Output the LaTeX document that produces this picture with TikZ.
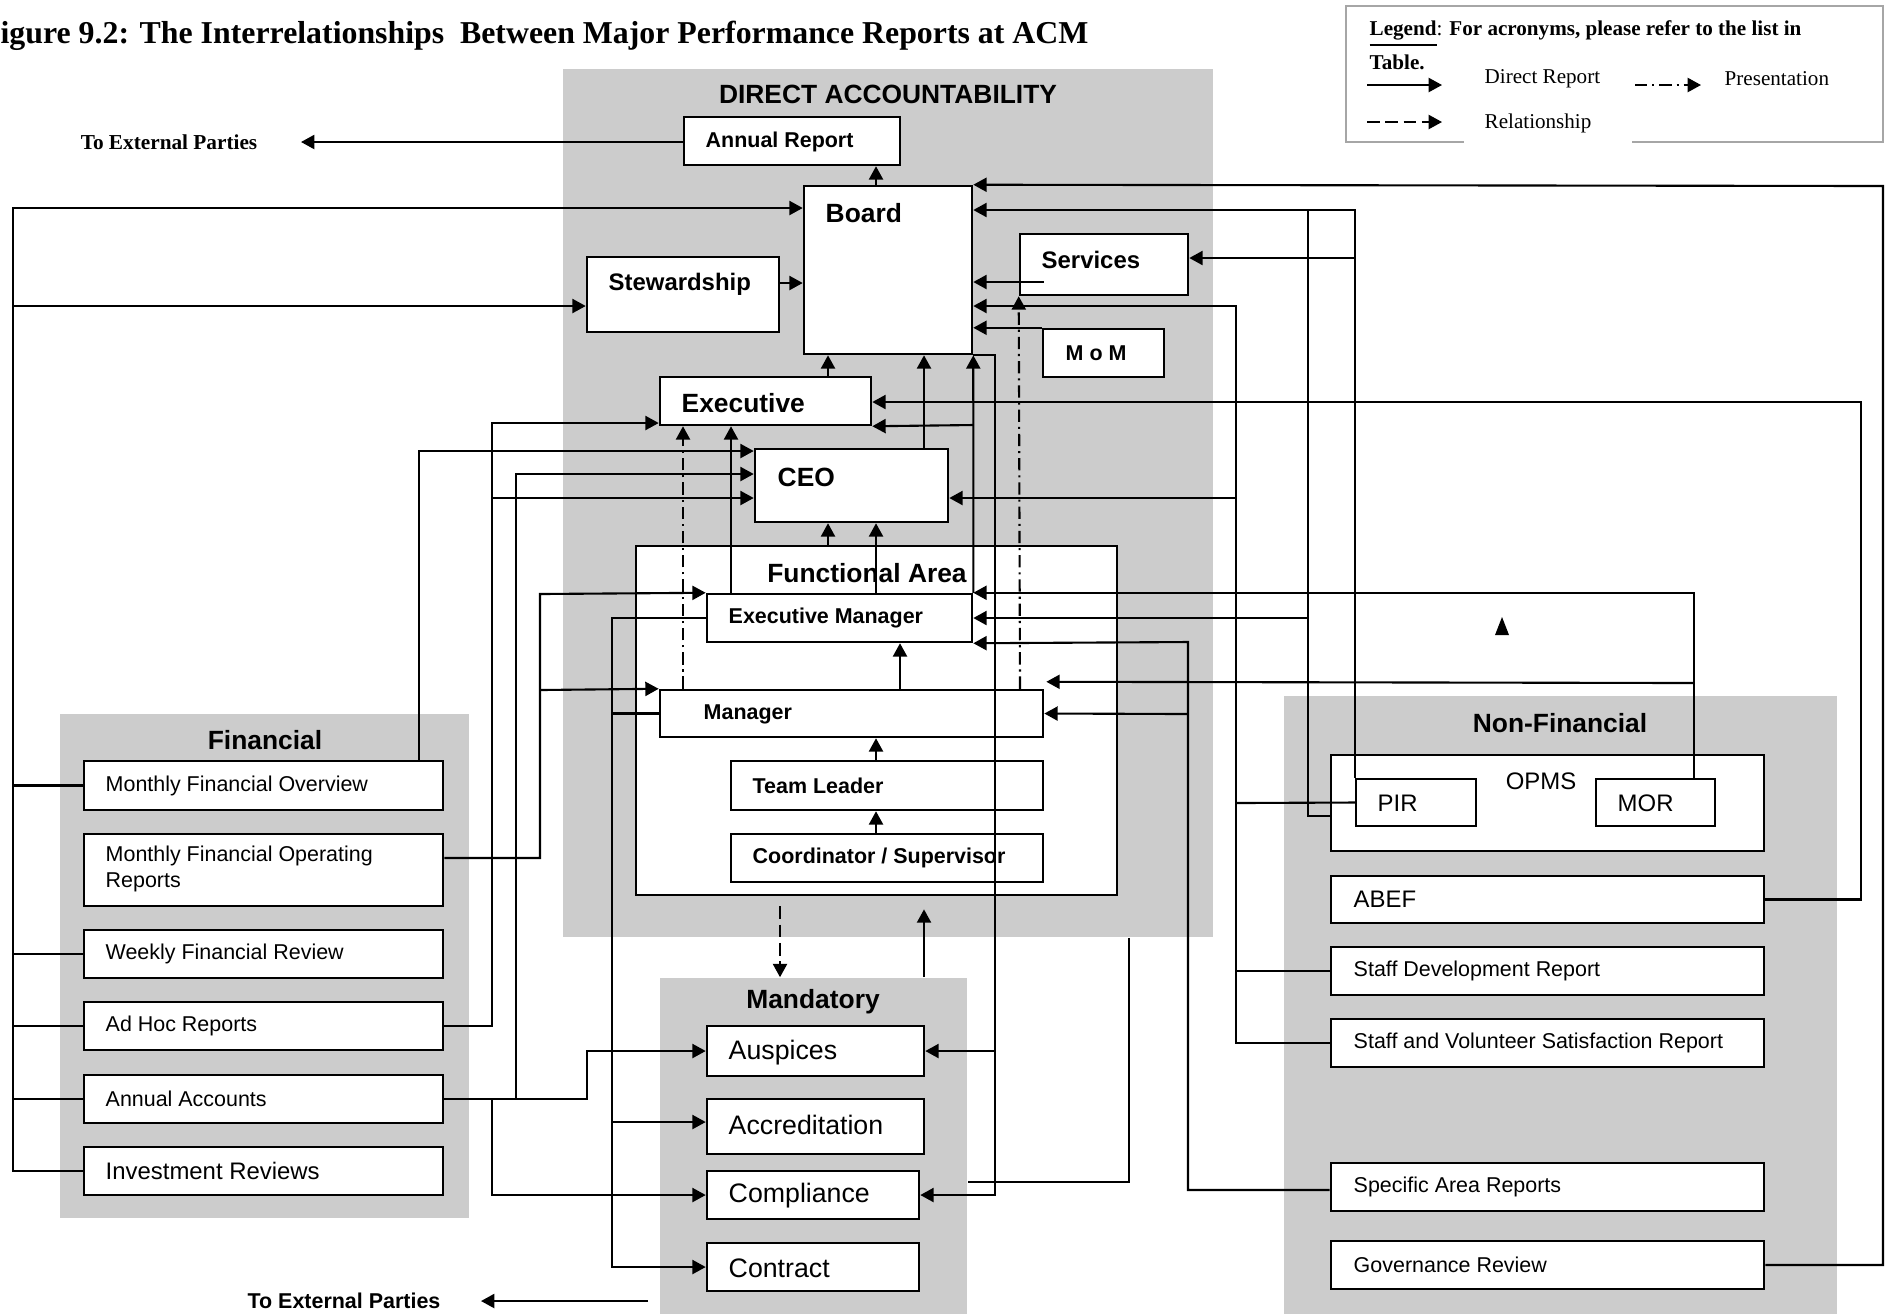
\documentclass[tikz,border=0pt]{standalone}
\usepackage{fontspec}
\setmainfont{Liberation Sans}
\newfontfamily\timesfont{Liberation Serif}
\usetikzlibrary{arrows.meta,calc}

\tikzset{
  region/.style={shape=rectangle, fill=black!20, inner sep=0pt},
  box/.style={shape=rectangle, draw, line width=0.7pt, fill=white, inner sep=0pt},
  head/.style={anchor=center, inner sep=0pt, font=\bfseries\fontsize{7.5}{9}\selectfont},
  lblbig/.style={anchor=west, inner sep=0pt, font=\bfseries\fontsize{7.5}{9}\selectfont},
  lblmid/.style={anchor=west, inner sep=0pt, font=\bfseries\fontsize{6.8}{8.2}\selectfont},
  lblsmall/.style={anchor=west, inner sep=0pt, font=\bfseries\fontsize{6.1}{7.3}\selectfont},
  item/.style={anchor=west, inner sep=0pt, align=left, font=\fontsize{6.1}{7.25}\selectfont},
  itemmid/.style={anchor=west, inner sep=0pt, font=\fontsize{6.8}{8.2}\selectfont},
  itembig/.style={anchor=west, inner sep=0pt, font=\fontsize{7.6}{9.1}\selectfont},
  legtxt/.style={anchor=west, inner sep=0pt, font=\timesfont\fontsize{6.0}{7.2}\selectfont},
  wire/.style={line width=0.6pt},
  conn/.style={wire, -{Triangle[length=3.8pt, width=4pt]}},
  pres/.style={conn, dash pattern=on 3.5pt off 1.4pt on 0.6pt off 1.4pt},
  rel/.style={conn, dash pattern=on 3.6pt off 1.6pt}
}

\begin{document}
\begin{tikzpicture}[x=0.01cm, y=-0.01cm]
	\useasboundingbox (0,0) rectangle (1889,1314);
	% Shaded areas:
	\node[region, minimum width=6.50cm, minimum height=8.68cm] (da) at (888,503) {};
	\node[region, minimum width=4.09cm, minimum height=5.04cm] (fin) at (264.5,966) {};
	\node[region, minimum width=3.07cm, minimum height=3.36cm] (mand) at (813.5,1146) {};
	\node[region, minimum width=5.53cm, minimum height=6.18cm] (nonfin) at (1560.5,1005) {};
	\node[anchor=base west, inner sep=0pt, font=\timesfont\bfseries\fontsize{9.05}{11}\selectfont] (title) at (-19.5,43) {Figure 9.2: The Interrelationships\ \ Between Major Performance Reports at ACM};

	% Legend:
	\node[shape=rectangle, draw=gray!70, line width=0.6pt, minimum width=5.37cm, minimum height=1.36cm] (legend) at (1614.5,74) {};
	\fill[white] (1464,106) rectangle (1632,146);
	\node[legtxt] (leg-a) at (1369,34) {\underline{\textbf{Legend}}: \textbf{For acronyms, please refer to the list in}};
	\node[legtxt] (leg-b) at (1369,62) {\textbf{Table.}};
	\coordinate (ls-a) at (1367,85); \coordinate (ls-b) at (1442,85);
	\coordinate (lp-a) at (1635,85); \coordinate (lp-b) at (1701,85);
	\coordinate (lr-a) at (1367,122); \coordinate (lr-b) at (1442,122);
	\draw[conn] (ls-a) -- (ls-b);
	\draw[pres] (lp-a) -- (lp-b);
	\draw[rel] (lr-a) -- (lr-b);
	\node[legtxt] (leg-dr) at (1484,79) {Direct Report};
	\node[legtxt] (leg-pr) at (1724,79) {Presentation};
	\node[legtxt] (leg-rl) at (1484,123) {Relationship};

	% Direct accountability:
	\node[head] (da-t) at (888,94) {DIRECT ACCOUNTABILITY};
	\node[box, minimum width=2.16cm, minimum height=0.48cm] (annual) at (792,141) {} node[lblsmall] (annual-t) at (705,142) {Annual Report};
	\node[box, minimum width=1.68cm, minimum height=1.68cm] (board) at (888,270) {} node[lblbig] (board-t) at (825,213) {Board};
	\node[box, minimum width=1.92cm, minimum height=0.75cm] (stew) at (683,294.5) {} node[lblmid] (stew-t) at (608,284) {Stewardship};
	\node[box, minimum width=1.68cm, minimum height=0.61cm] (serv) at (1104,264.5) {} node[lblmid] (serv-t) at (1041,260) {Services};
	\node[box, minimum width=1.21cm, minimum height=0.48cm] (mom) at (1103.5,353) {} node[lblsmall] (mom-t) at (1065,353) {M o M};
	\node[box, minimum width=2.11cm, minimum height=0.48cm] (exec) at (765.5,401) {} node[lblbig] (exec-t) at (681,403) {Executive};
	\node[box, minimum width=1.93cm, minimum height=0.73cm] (ceo) at (851.5,485.5) {} node[lblbig] (ceo-t) at (777,477) {CEO};
	\node[box, minimum width=4.81cm, minimum height=3.49cm] (fa) at (876.5,720.5) {} node[head] (fa-t) at (867,573) {Functional Area};
	\node[box, minimum width=2.65cm, minimum height=0.48cm] (em) at (839.5,618) {} node[lblsmall] (em-t) at (728,618) {Executive Manager};
	\node[box, minimum width=3.83cm, minimum height=0.47cm] (mgr) at (851.5,713.5) {} node[lblsmall] (mgr-t) at (703,714) {Manager};
	\node[box, minimum width=3.12cm, minimum height=0.49cm] (tl) at (887,785.5) {} node[lblsmall] (tl-t) at (752,785.5) {Team Leader};
	\node[box, minimum width=3.12cm, minimum height=0.48cm] (coord) at (887,858) {} node[lblsmall] (coord-t) at (752,858) {Coordinator / Supervisor};

	% Financial:
	\node[head] (fin-t) at (265,740) {Financial};
	\node[box, minimum width=3.59cm, minimum height=0.49cm] (mfo) at (263.5,785.5) {} node[item] (mfo-t) at (105,785.5) {Monthly Financial Overview};
	\node[box, minimum width=3.59cm, minimum height=0.72cm] (mfor) at (263.5,870) {} node[item] (mfor-t) at (105,869) {Monthly Financial Operating\\Reports};
	\node[box, minimum width=3.59cm, minimum height=0.48cm] (wfr) at (263.5,954) {} node[item] (wfr-t) at (105,954) {Weekly Financial Review};
	\node[box, minimum width=3.59cm, minimum height=0.48cm] (ahr) at (263.5,1026) {} node[item] (ahr-t) at (105,1026) {Ad Hoc Reports};
	\node[box, minimum width=3.59cm, minimum height=0.48cm] (aa) at (263.5,1099) {} node[item] (aa-t) at (105,1099) {Annual Accounts};
	\node[box, minimum width=3.59cm, minimum height=0.48cm] (ir) at (263.5,1171) {} node[itemmid] (ir-t) at (105,1171) {Investment Reviews};

	% Mandatory:
	\node[head] (mand-t) at (813,1002) {Mandatory};
	\node[box, minimum width=2.17cm, minimum height=0.50cm] (ausp) at (815.5,1051) {} node[itembig] (ausp-t) at (728,1053) {Auspices};
	\node[box, minimum width=2.17cm, minimum height=0.55cm] (accr) at (815.5,1126.5) {} node[itembig] (accr-t) at (728,1125) {Accreditation};
	\node[box, minimum width=2.12cm, minimum height=0.48cm] (comp) at (813,1195) {} node[itembig] (comp-t) at (728,1196) {Compliance};
	\node[box, minimum width=2.12cm, minimum height=0.48cm] (contr) at (813,1267) {} node[itembig] (contr-t) at (728,1268) {Contract};

	% Non-financial:
	\node[head] (nonfin-t) at (1560,723) {Non-Financial};
	\node[box, minimum width=4.33cm, minimum height=0.96cm] (opms) at (1547.5,803) {} node[itemmid, anchor=center] (opms-t) at (1541,781) {OPMS};
	\node[box, minimum width=1.20cm, minimum height=0.47cm] (pir) at (1416,802.5) {} node[itemmid] (pir-t) at (1377,803) {PIR};
	\node[box, minimum width=1.19cm, minimum height=0.47cm] (mor) at (1655.5,802.5) {} node[itemmid] (mor-t) at (1617,803) {MOR};
	\node[box, minimum width=4.33cm, minimum height=0.47cm] (abef) at (1547.5,899.5) {} node[itemmid] (abef-t) at (1353,899.5) {ABEF};
	\node[box, minimum width=4.33cm, minimum height=0.48cm] (sdr) at (1547.5,971) {} node[item] (sdr-t) at (1353,971) {Staff Development Report};
	\node[box, minimum width=4.33cm, minimum height=0.48cm] (svsr) at (1547.5,1043) {} node[item] (svsr-t) at (1353,1043) {Staff and Volunteer Satisfaction Report};
	\node[box, minimum width=4.33cm, minimum height=0.48cm] (sar) at (1547.5,1187) {} node[item] (sar-t) at (1353,1187) {Specific Area Reports};
	\node[box, minimum width=4.33cm, minimum height=0.48cm] (gr) at (1547.5,1265) {} node[item] (gr-t) at (1353,1265) {Governance Review};

	% External parties:
	\node[inner sep=0pt, font=\timesfont\bfseries\fontsize{6.05}{7.3}\selectfont] (ext1) at (169,142) {To External Parties};
	\node[inner sep=0pt, font=\bfseries\fontsize{6.1}{7.3}\selectfont] (ext2) at (344,1301) {To External Parties};
	\coordinate (ext1-tip) at (301,142);
	\coordinate (ext2-from) at (648,1301);
	\coordinate (ext2-tip) at (481,1301);
	\draw[conn] (annual.west |- 0,142) -- (ext1-tip);
	\draw[conn] (ext2-from) -- (ext2-tip);

	% Inside direct accountability:
	\draw[conn] (board.north -| 876,0) -- (annual.south -| 876,0);
	\draw[conn] (stew.east |- 0,283) -- (board.west |- 0,283);
	\draw[conn] (exec.north -| 828,0) -- (board.south -| 828,0);
	\draw[conn] (ceo.north -| 924,0) -- (board.south -| 924,0);
	\draw[conn] (em.north east) -- (board.south east);
	\draw[conn] (em.north east |- 0,425) -- (exec.south east);
	\draw[conn] (em.north -| 731,0) -- (exec.south -| 731,0);
	\draw[conn] (em.north -| 876,0) -- (ceo.south -| 876,0);
	\draw[conn] (fa.north -| 828,0) -- (ceo.south -| 828,0);
	\draw[conn] (mgr.north -| 900,0) -- (em.south -| 900,0);
	\draw[conn] (tl.north -| 876,0) -- (mgr.south -| 876,0);
	\draw[conn] (coord.north -| 876,0) -- (tl.south -| 876,0);
	\draw[pres] (mgr.north -| 683,0) -- (exec.south -| 683,0);
	\draw[pres] (mgr.north -| 1020,0) -- (serv.south west);
	\draw[conn] ($(serv.west |- 0,282)+(25,0)$) -- (board.east |- 0,282);
	\draw[conn] (mom.north west) -- (board.east |- mom.north west);

	% Right side:
	\draw[conn] (gr.east) -| (1883,186) -- (board.north east);
	\draw[conn] (pir.north west) |- (board.east |- 0,210);
	\draw[conn] (pir.north west |- 0,258) -- (serv.east |- 0,258);
	\draw[wire] (opms.west |- 0,816) -| (1308,210);
	\draw[conn] (1308,618) -- (em.east);
	\draw[conn] (svsr.west) -| (1236,306) -- (board.east |- 0,306);
	\draw[conn] (1236,498) -- (ceo.east |- 0,498);
	\draw[wire] (1236,803) -- (pir.west);
	\draw[wire] (1236,971) -- (sdr.west);
	\draw[conn] (abef.east) -| (1861,402) -- (exec.east |- 0,402);
	\draw[conn] (mor.north -| 1694,0) |- (em.north east);
	\draw[conn] (1694,683) -- ($(mgr.north east)+(2,-7)$);
	\draw[conn] (sar.west |- 0,1190) -| (1188,642) -- (em.south east);
	\draw[conn] (1188,714) -- (mgr.east);
	\fill (1495,635) -- (1502,617) -- (1509,635) -- cycle;

	% Towards mandatory:
	\draw[wire] (da.south -| 1129,0) |- (mand.east |- 0,1182);
	\draw[conn] (board.south east) -| (995,1195) -- (comp.east);
	\draw[conn] (995,1051) -- (ausp.east);
	\draw[rel] ($(fa.south -| 780,0)+(0,10)$) -- (mand.north -| 780,0);
	\draw[conn] (mand.north -| 924,0) -- ($(fa.south -| 924,0)+(0,13)$);

	% Left side:
	\draw[conn] (ir.west) -| (13,208) -- (board.west |- 0,208);
	\draw[conn] (13,306) -- (stew.west |- 0,306);
	\draw[wire] (mfo.west) -- (mfo.west -| 13,0);
	\draw[wire] (wfr.west) -- (wfr.west -| 13,0);
	\draw[wire] (ahr.west) -- (ahr.west -| 13,0);
	\draw[wire] (aa.west) -- (aa.west -| 13,0);
	\draw[conn] (mfo.north -| 419,0) |- (ceo.west |- 0,451);
	\draw[conn] (ahr.east) -| (492,423) -- (exec.west |- 0,423);
	\draw[conn] (492,498) -- (ceo.west |- 0,498);
	\draw[conn] (aa.east) -| (516,474) -- (ceo.west |- 0,474);
	\draw[conn] (aa.east) -| (587,1051) -- (ausp.west);
	\draw[conn] (492,1099) |- (comp.west);
	\draw[conn] (mfor.east |- 0,858) -| (540,594) -- (em.north west);
	\draw[conn] (540,690) -- (mgr.north west);
	\draw[conn] (em.west) -| (612,1267) -- (contr.west);
	\draw[wire] (mgr.west) -- (mgr.west -| 612,0);
	\draw[conn] (612,1122) -- (accr.west |- 0,1122);
\end{tikzpicture}
\end{document}
